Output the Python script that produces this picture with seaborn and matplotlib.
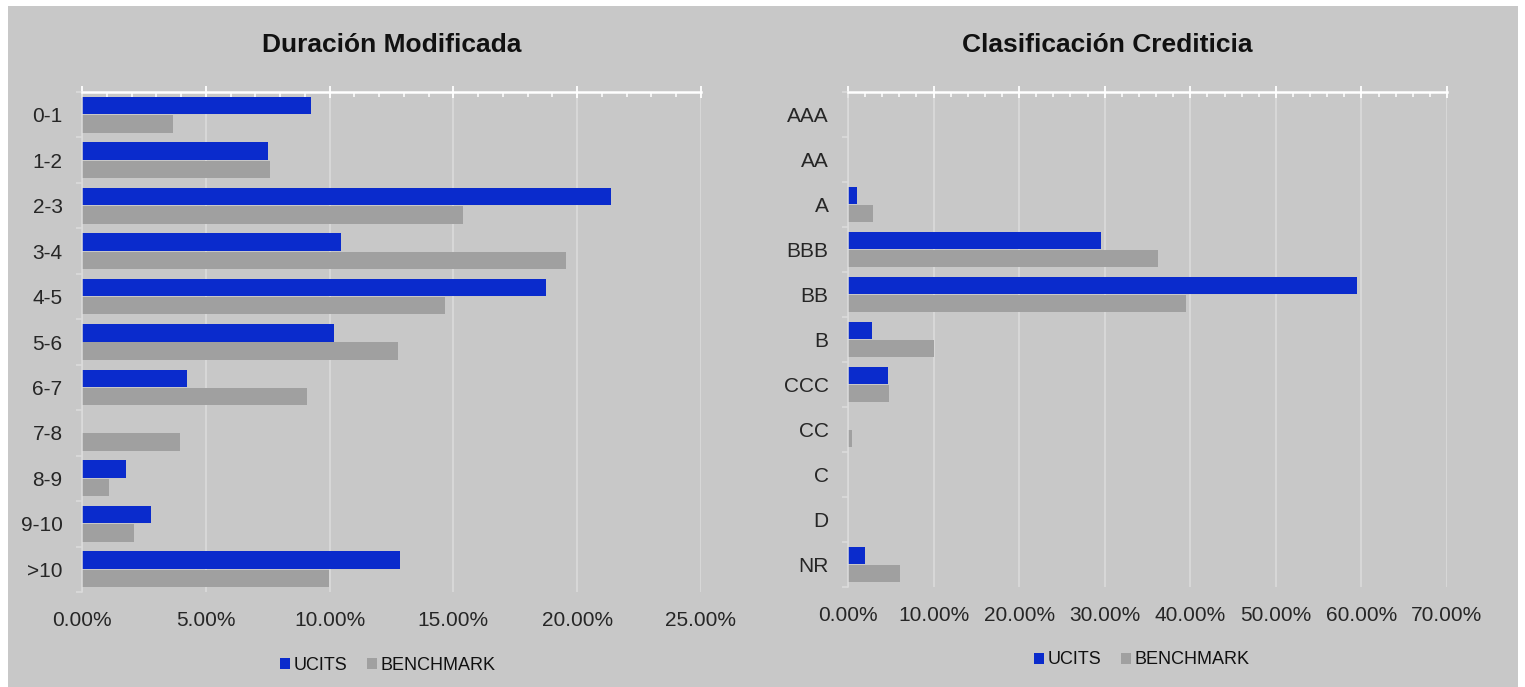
import matplotlib
matplotlib.use("Agg")
import numpy as np
import pandas as pd
import matplotlib.pyplot as plt
import seaborn as sns
from matplotlib.ticker import MultipleLocator, PercentFormatter
from matplotlib.patches import Rectangle

# --- data (in %) ---
duration_buckets = ["0-1", "1-2", "2-3", "3-4", "4-5", "5-6", "6-7", "7-8", "8-9", "9-10", ">10"]
duration_ucits = [9.25, 7.51, 21.37, 10.46, 18.74, 10.18, 4.24, 0.0, 1.78, 2.79, 12.84]
duration_bench = [3.68, 7.59, 15.38, 19.56, 14.66, 12.76, 9.09, 3.96, 1.09, 2.10, 9.98]

rating_buckets = ["AAA", "AA", "A", "BBB", "BB", "B", "CCC", "CC", "C", "D", "NR"]
rating_ucits = [0.0, 0.0, 1.05, 29.55, 59.45, 2.8, 4.7, 0.0, 0.0, 0.0, 2.0]
rating_bench = [0.0, 0.0, 2.9, 36.2, 39.5, 10.0, 4.8, 0.5, 0.0, 0.0, 6.1]

series = ["UCITS", "BENCHMARK"]

BG = "#c8c8c8"
GRID = "#dcdcdc"
colors = {"UCITS": "#0a2bcc", "BENCHMARK": "#a0a0a0"}

sns.set_style("white")
plt.rcParams["font.family"] = ["Liberation Sans", "DejaVu Sans"]
plt.rcParams["text.color"] = "#111111"

W, H = 1525, 687
fig = plt.figure(figsize=(W / 100, H / 100), dpi=100, facecolor="white")
fig.patches.append(Rectangle((8 / W, 0), (1518 - 8) / W, 681 / H,
                             transform=fig.transFigure, facecolor=BG,
                             edgecolor="none", zorder=-10))


def px_axes(x0, x1, y0, y1):
    # pixel box (top-left origin) -> figure fraction
    return fig.add_axes([x0 / W, 1 - y1 / H, (x1 - x0) / W, (y1 - y0) / H])


def long_df(buckets, ucits, bench):
    return pd.DataFrame({
        "bucket": buckets * 2,
        "serie": ["UCITS"] * len(buckets) + ["BENCHMARK"] * len(buckets),
        "value": ucits + bench,
    })


def hbar_panel(ax, buckets, ucits, bench, xmax, major, title, title_x, leg_xy):
    df = long_df(buckets, ucits, bench)
    sns.barplot(data=df, y="bucket", x="value", hue="serie", order=buckets,
                hue_order=series, palette=colors, orient="h", width=0.81,
                gap=0.05, saturation=1, errorbar=None, linewidth=0, ax=ax)
    ax.set_facecolor(BG)
    ax.set_xlim(0, xmax)
    ax.set_xlabel("")
    ax.set_ylabel("")

    # x axis: line + ticks on top, labels at the bottom
    ax.xaxis.set_major_locator(MultipleLocator(major))
    ax.xaxis.set_minor_locator(MultipleLocator(major / 5))
    ax.xaxis.set_major_formatter(PercentFormatter(100, decimals=2))
    ax.xaxis.set_ticks_position("top")
    ax.tick_params(axis="x", which="major", top=True, bottom=False,
                   labeltop=False, labelbottom=True, direction="inout",
                   length=8.6, width=1.3, color="white", labelsize=15, pad=9.5)
    ax.tick_params(axis="x", which="minor", top=True, bottom=False,
                   direction="in", length=3.6, width=1.1, color="white")

    # y axis: category labels, small ticks between categories
    ax.set_yticks(np.arange(-0.5, len(buckets)), minor=True)
    ax.tick_params(axis="y", which="major", length=0, labelsize=15, pad=14)
    ax.tick_params(axis="y", which="minor", left=True, direction="out",
                   length=4.3, width=1.1, color=GRID)

    ax.grid(axis="x", which="major", color=GRID, linewidth=1.1)
    ax.set_axisbelow(True)
    for side in ["bottom", "right"]:
        ax.spines[side].set_visible(False)
    ax.spines["top"].set_color("white")
    ax.spines["top"].set_linewidth(1.8)
    ax.spines["left"].set_color(GRID)
    ax.spines["left"].set_linewidth(1.1)

    fig.text(title_x / W, 1 - 45 / H, title, ha="center", va="center",
             fontsize=19, fontweight="bold")

    sns.move_legend(ax, "center", bbox_to_anchor=(leg_xy[0] / W, 1 - leg_xy[1] / H),
                    bbox_transform=fig.transFigure, ncol=2, title=None,
                    frameon=False, fontsize=13, handlelength=0.55,
                    handleheight=0.55, handletextpad=0.2, columnspacing=1.1)


ax1 = px_axes(82, 701, 92, 592)
hbar_panel(ax1, duration_buckets, duration_ucits, duration_bench, 25, 5,
           "Duración Modificada", 392, (388, 665))

ax2 = px_axes(848, 1447, 92, 587)
hbar_panel(ax2, rating_buckets, rating_ucits, rating_bench, 70, 10,
           "Clasificación Crediticia", 1107, (1142, 660))

fig.savefig("out.png", dpi=100, facecolor=fig.get_facecolor())
